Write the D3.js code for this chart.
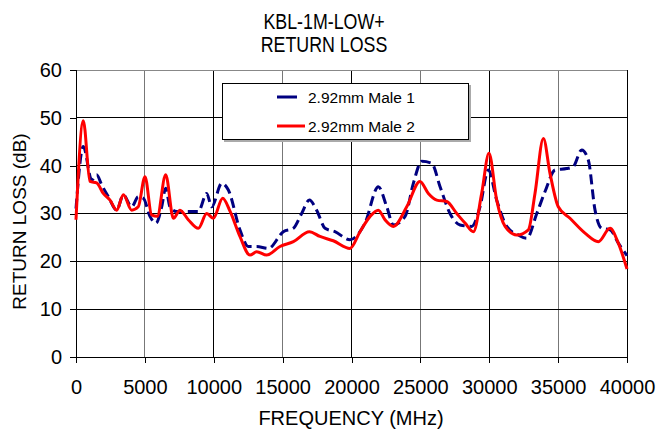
<!DOCTYPE html>
<html>
<head>
<meta charset="utf-8">
<script src="https://cdn.jsdelivr.net/npm/d3@7"></script>
<style>
  body { margin: 0; background: #fff; }
  text { font-family: "Liberation Sans", Arial, sans-serif; fill: #000; }
</style>
</head>
<body>
<script>
// frequency (MHz) / return loss (dB)
const male1Freq = [0, 530, 1140, 1500, 1860, 2350, 2950, 3440, 4040, 4520, 4890, 5370, 5810, 6220, 6510, 6820, 7310, 8030, 8880, 9490, 9850, 10580, 11060, 11900, 12510, 13120, 13960, 15050, 15780, 16380, 16940, 17470, 18080, 18800, 19890, 20980, 21950, 22560, 23040, 23890, 24490, 25100, 25820, 26430, 27150, 27880, 28730, 29330, 29930, 30540, 31270, 32110, 32720, 33450, 34050, 34780, 35620, 36100, 36710, 37190, 37680, 38160, 38770, 39370, 40000];
const male1RL = [31, 44.0, 37, 38.1, 36, 33.5, 30.7, 33.9, 31.4, 33.5, 33.2, 29.4, 28, 31.4, 35.3, 31.4, 30.4, 30.4, 30.4, 34.2, 31.4, 36.3, 34.9, 26.6, 23.1, 23.1, 22.7, 26.2, 26.9, 30.0, 32.8, 30.7, 26.9, 26.2, 24.5, 28, 35.6, 31.4, 27.6, 29.4, 36.3, 40.9, 40.5, 35.6, 30, 27.6, 27.3, 31.4, 39.1, 32.8, 27.3, 25.5, 24.8, 30, 34.6, 39.1, 39.4, 39.8, 43.3, 41.2, 30.7, 26.9, 26.6, 23.8, 21.2];

const male2Freq = [0, 530, 1016, 1500, 1980, 2470, 2950, 3440, 4040, 4520, 5010, 5490, 5900, 6510, 7070, 7550, 8150, 8880, 9490, 9970, 10650, 11180, 11900, 12630, 13120, 13840, 14810, 15780, 16940, 17710, 18680, 19890, 20620, 21350, 21950, 22430, 23040, 24010, 24970, 25580, 26190, 26910, 27640, 28240, 28850, 29450, 29980, 30540, 31150, 31990, 32840, 33320, 33930, 34410, 35010, 35860, 36950, 37920, 38770, 39370, 40000];
const male2RL = [28.7, 49.4, 36.7, 36.4, 34.2, 32.8, 30.7, 33.9, 30.7, 31.4, 37.7, 29.7, 29.4, 38.1, 29, 30.7, 28.7, 26.9, 30, 29, 33.2, 30.5, 25.2, 21.3, 22, 21.3, 23.1, 24.1, 26.2, 25.2, 24.3, 22.7, 26.2, 29.4, 30.7, 28.7, 27.3, 31.4, 36.7, 34.2, 32.8, 32.5, 30, 28, 26.2, 34.2, 42.6, 32.8, 27.3, 25.5, 26.6, 34.2, 45.7, 38.4, 31.4, 29, 25.9, 24.1, 26.9, 23.8, 18.4];

const xTicks = [0, 5000, 10000, 15000, 20000, 25000, 30000, 35000, 40000];
const yTicks = [0, 10, 20, 30, 40, 50, 60];
const seriesNames = ["2.92mm Male 1", "2.92mm Male 2"];
const titleLines = ["KBL-1M-LOW+", "RETURN LOSS"];

const W = 668, H = 431;
const margin = { left: 76, right: 41, top: 70, bottom: 74 };

const svg = d3.select("body").append("svg").attr("width", W).attr("height", H);

const x = d3.scaleLinear().domain([0, 40000]).range([margin.left, W - margin.right]);
const y = d3.scaleLinear().domain([0, 60]).range([H - margin.bottom, margin.top]);

// grid
svg.append("g").selectAll("line").data(xTicks.slice(1)).join("line")
  .attr("x1", d => x(d)).attr("x2", d => x(d))
  .attr("y1", y(0)).attr("y2", y(60))
  .attr("stroke", (d, i) => i % 2 ? "#000" : "#777").attr("stroke-width", 1).attr("shape-rendering", "crispEdges");
svg.append("g").selectAll("line").data(yTicks.slice(1)).join("line")
  .attr("x1", x(0)).attr("x2", x(40000))
  .attr("y1", d => y(d)).attr("y2", d => y(d))
  .attr("stroke", d => d === 60 ? "#888" : "#000").attr("stroke-width", 1).attr("shape-rendering", "crispEdges");

// axes
const xAxis = svg.append("g").attr("transform", `translate(0,${y(0)})`)
  .call(d3.axisBottom(x).tickValues(xTicks).tickFormat(d3.format("d")).tickSize(6).tickPadding(17));
const yAxis = svg.append("g").attr("transform", `translate(${x(0)},0)`)
  .call(d3.axisLeft(y).tickValues(yTicks).tickSize(6).tickPadding(8));
[xAxis, yAxis].forEach(a => {
  a.select(".domain").attr("stroke", "#000").attr("shape-rendering", "crispEdges");
  a.selectAll(".tick line").attr("stroke", "#000").attr("shape-rendering", "crispEdges");
  a.selectAll(".tick text").style("font-size", "20px").style("font-family", "'Liberation Sans', Arial, sans-serif").attr("fill", "#000");
});

// lines
const line = d3.line().x(d => x(d[0])).y(d => y(d[1])).curve(d3.curveMonotoneX);
const male1 = male1Freq.map((f, i) => [f, male1RL[i]]);
const male2 = male2Freq.map((f, i) => [f, male2RL[i]]);

svg.append("path").datum(male1).attr("d", line)
  .attr("fill", "none").attr("stroke", "#000080").attr("stroke-width", 3)
  .attr("stroke-dasharray", "10,5");
svg.append("path").datum(male2).attr("d", line)
  .attr("fill", "none").attr("stroke", "#ff0000").attr("stroke-width", 3);

// legend
const leg = svg.append("g");
leg.append("rect").attr("x", 224).attr("y", 85).attr("width", 247).attr("height", 57).attr("fill", "#aaa");
leg.append("rect").attr("x", 222.5).attr("y", 83.5).attr("width", 246).attr("height", 56)
  .attr("fill", "#fff").attr("stroke", "#000").attr("stroke-width", 1);
const legColors = ["#000080", "#ff0000"];
const legY = [97, 126];
seriesNames.forEach((n, i) => {
  leg.append("line").attr("x1", 277).attr("x2", i ? 305 : 297)
    .attr("y1", legY[i]).attr("y2", legY[i])
    .attr("stroke", legColors[i]).attr("stroke-width", 3);
  leg.append("text").attr("x", 308).attr("y", legY[i] + 5.5).style("font-size", "15.5px").text(n);
});

// titles (the reference font is narrow, so squeeze horizontally)
svg.append("g").selectAll("text").data(titleLines).join("text")
  .attr("transform", (d, i) => `translate(324,${29 + i * 22.5}) scale(0.81,1)`)
  .attr("text-anchor", "middle").style("font-size", "22px").text(d => d);

svg.append("text").attr("x", 351).attr("y", 425).attr("text-anchor", "middle")
  .style("font-size", "20px").text("FREQUENCY (MHz)");
svg.append("text").attr("transform", `translate(26,${(y(0) + y(60)) / 2 + 8}) rotate(-90)`)
  .attr("text-anchor", "middle").style("font-size", "19px").text("RETURN LOSS (dB)");
</script>
</body>
</html>
